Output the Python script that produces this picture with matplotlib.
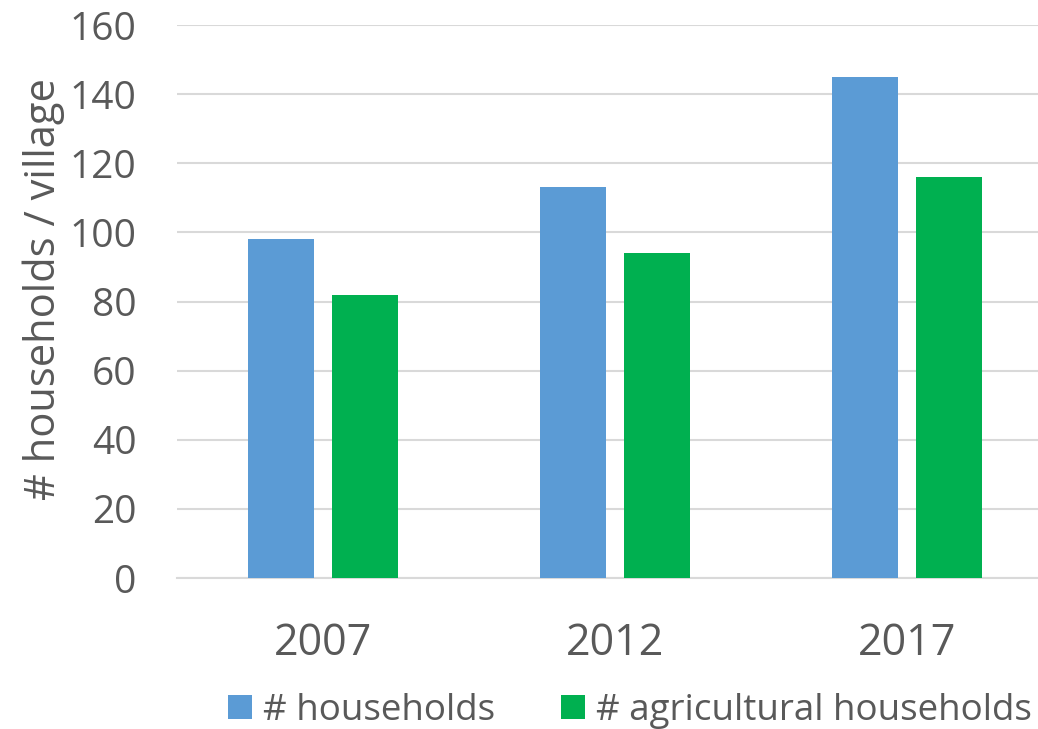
import matplotlib.pyplot as plt
import numpy as np

plt.rcParams["font.family"] = ["Open Sans", "DejaVu Sans"]

years = ["2007", "2012", "2017"]
households = [98, 113, 145]
agri_households = [82, 94, 116]

txt = "#595959"
fig = plt.figure(figsize=(10.38, 7.29), dpi=100)
# plot area runs a little past the right edge, like the original crop
ax = fig.add_axes([0.1705, 0.2071, 0.8439, 0.7586])

x = np.arange(len(years))
w = 0.226
ax.bar(x - 0.144, households, w, color="#5B9BD5", label="# households", zorder=3)
ax.bar(x + 0.144, agri_households, w, color="#00B050", label="# agricultural households", zorder=3)

ax.set_xlim(-0.5, 2.5)
ax.set_ylim(0, 160)
ax.set_yticks(range(0, 161, 20))
ax.set_xticks(x)
ax.set_xticklabels(years)
ax.yaxis.grid(True, color="#D9D9D9", linewidth=1.5, zorder=0)
for s in ["top", "right", "left"]:
    ax.spines[s].set_visible(False)
ax.spines["bottom"].set_color("#D9D9D9")
ax.spines["bottom"].set_linewidth(1.5)
ax.tick_params(axis="both", length=0, colors=txt)
ax.tick_params(axis="y", pad=29, labelsize=28)
ax.tick_params(axis="x", pad=31, labelsize=31)
ax.set_ylabel("# households / village", fontsize=30, color=txt)
ax.yaxis.set_label_coords(-0.128, 0.523)

fig.legend(loc="center", bbox_to_anchor=(0.607, 0.025), ncol=2, frameon=False,
           fontsize=26.5, labelcolor=txt, handlelength=0.65, handleheight=0.65,
           handletextpad=0.3, columnspacing=1.8)

fig.savefig("out.png", dpi=100)
